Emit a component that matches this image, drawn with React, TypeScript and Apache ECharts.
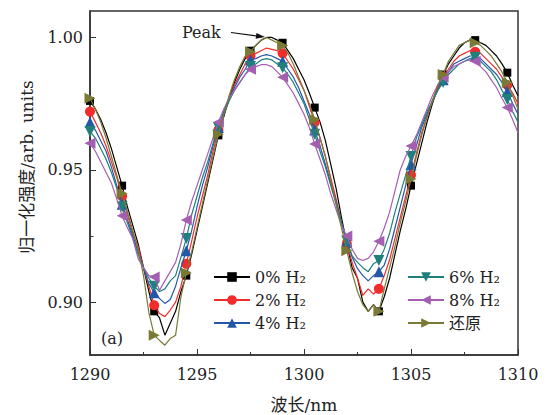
import React, { useEffect, useRef } from 'react';
import * as echarts from 'echarts';

// Sampling grid of the spectra (nm): 1290 ... 1310 every 0.25 nm
const X_START = 1290;
const X_STEP = 0.25;

const names = ['0% H₂', '2% H₂', '4% H₂', '6% H₂', '8% H₂', '还原'];

const h2_0 = [
  0.976, 0.973, 0.969, 0.964, 0.958, 0.951, 0.944, 0.936, 0.929, 0.922,
  0.913, 0.904, 0.8965, 0.894, 0.8875, 0.892, 0.8965, 0.904, 0.910, 0.918,
  0.927, 0.936, 0.945, 0.954, 0.963, 0.970, 0.977, 0.983, 0.988, 0.992,
  0.995, 0.997, 0.999, 1.000, 1.000, 0.999, 0.998, 0.995, 0.992, 0.988,
  0.984, 0.979, 0.9735, 0.968, 0.961, 0.952, 0.943, 0.932, 0.922, 0.913,
  0.909, 0.900, 0.8965, 0.899, 0.8965, 0.902, 0.909, 0.918, 0.927, 0.935,
  0.944, 0.952, 0.960, 0.968, 0.975, 0.981, 0.986, 0.990, 0.993, 0.996,
  0.998, 0.999, 0.999, 0.998, 0.997, 0.995, 0.993, 0.990, 0.9867, 0.982,
  0.978,
];
const h2_2 = [
  0.972, 0.968, 0.964, 0.959, 0.953, 0.947, 0.940, 0.933, 0.926, 0.921,
  0.913, 0.906, 0.8988, 0.8957, 0.8945, 0.897, 0.900, 0.906, 0.9145, 0.923,
  0.932, 0.940, 0.948, 0.957, 0.965, 0.971, 0.977, 0.982, 0.986, 0.990,
  0.993, 0.994, 0.995, 0.996, 0.9955, 0.995, 0.994, 0.991, 0.988, 0.984,
  0.980, 0.974, 0.968, 0.962, 0.955, 0.947, 0.939, 0.930, 0.922, 0.915,
  0.909, 0.9025, 0.905, 0.903, 0.905, 0.910, 0.916, 0.924, 0.932, 0.940,
  0.948, 0.956, 0.964, 0.970, 0.976, 0.981, 0.985, 0.988, 0.991, 0.993,
  0.994, 0.995, 0.9946, 0.994, 0.992, 0.990, 0.988, 0.985, 0.982, 0.979,
  0.975,
];
const h2_4 = [
  0.968, 0.965, 0.961, 0.957, 0.951, 0.944, 0.937, 0.931, 0.925, 0.919,
  0.913, 0.907, 0.9035, 0.9013, 0.8995, 0.901, 0.906, 0.913, 0.9194, 0.927,
  0.936, 0.944, 0.951, 0.959, 0.966, 0.972, 0.977, 0.981, 0.985, 0.988,
  0.9916, 0.992, 0.993, 0.9935, 0.993, 0.992, 0.991, 0.988, 0.985, 0.981,
  0.976, 0.971, 0.965, 0.959, 0.952, 0.945, 0.938, 0.930, 0.923, 0.917,
  0.9126, 0.910, 0.908, 0.910, 0.9115, 0.914, 0.920, 0.928, 0.936, 0.944,
  0.952, 0.959, 0.966, 0.971, 0.976, 0.980, 0.984, 0.987, 0.990, 0.991,
  0.992, 0.993, 0.993, 0.992, 0.990, 0.988, 0.986, 0.983, 0.9796, 0.975,
  0.971,
];
const h2_6 = [
  0.9645, 0.962, 0.958, 0.954, 0.949, 0.943, 0.936, 0.930, 0.924, 0.918,
  0.913, 0.909, 0.906, 0.904, 0.905, 0.908, 0.910, 0.917, 0.924, 0.933,
  0.940, 0.947, 0.953, 0.960, 0.966, 0.971, 0.976, 0.980, 0.983, 0.986,
  0.989, 0.990, 0.9915, 0.992, 0.9915, 0.990, 0.9886, 0.986, 0.983, 0.979,
  0.975, 0.969, 0.9634, 0.957, 0.951, 0.944, 0.937, 0.930, 0.923, 0.9175,
  0.915, 0.913, 0.9115, 0.9145, 0.9157, 0.920, 0.926, 0.934, 0.941, 0.948,
  0.955, 0.962, 0.967, 0.972, 0.976, 0.980, 0.983, 0.986, 0.988, 0.990,
  0.991, 0.992, 0.9924, 0.991, 0.989, 0.987, 0.984, 0.980, 0.9766, 0.972,
  0.968,
];
const h2_8 = [
  0.960, 0.957, 0.953, 0.949, 0.945, 0.939, 0.9326, 0.928, 0.924, 0.9164,
  0.913, 0.910, 0.9095, 0.9045, 0.908, 0.9115, 0.915, 0.922, 0.931, 0.938,
  0.944, 0.950, 0.956, 0.962, 0.968, 0.973, 0.977, 0.980, 0.983, 0.986,
  0.988, 0.989, 0.9897, 0.9897, 0.989, 0.987, 0.985, 0.982, 0.979, 0.975,
  0.971, 0.966, 0.9597, 0.954, 0.948, 0.941, 0.935, 0.929, 0.925, 0.920,
  0.9165, 0.9157, 0.9165, 0.919, 0.923, 0.928, 0.934, 0.942, 0.950, 0.955,
  0.959, 0.963, 0.968, 0.973, 0.978, 0.982, 0.985, 0.987, 0.989, 0.990,
  0.991, 0.9915, 0.991, 0.989, 0.987, 0.984, 0.981, 0.977, 0.9735, 0.969,
  0.964,
];
const restored = [
  0.977, 0.973, 0.968, 0.962, 0.955, 0.948, 0.941, 0.934, 0.927, 0.920,
  0.910, 0.896, 0.8875, 0.8855, 0.8837, 0.8862, 0.8875, 0.902, 0.911, 0.919,
  0.928, 0.937, 0.946, 0.955, 0.9634, 0.971, 0.978, 0.984, 0.989, 0.993,
  0.9946, 0.997, 0.999, 1.000, 0.999, 0.998, 0.997, 0.994, 0.990, 0.985,
  0.980, 0.975, 0.969, 0.962, 0.955, 0.946, 0.937, 0.928, 0.9194, 0.911,
  0.904, 0.899, 0.8965, 0.899, 0.8965, 0.905, 0.913, 0.921, 0.930, 0.938,
  0.9465, 0.955, 0.963, 0.970, 0.976, 0.982, 0.986, 0.991, 0.994, 0.997,
  0.998, 0.999, 0.998, 0.997, 0.995, 0.993, 0.990, 0.987, 0.983, 0.978,
  0.973,
];

const seriesValues = [h2_0, h2_2, h2_4, h2_6, h2_8, restored];
const colors = ['#000000', '#f22b2b', '#2457a8', '#1f7f7b', '#a45fb1', '#7a7a36'];
const symbols = ['rect', 'circle', 'triangle', 'triangle', 'triangle', 'triangle'];
const symbolRotations = [0, 0, 0, 180, 90, -90];
const symbolSizes = [8, 10, 11, 11, 11, 11];
const MARKER_EVERY = 6; // a marker every 1.5 nm

const xTicks = [1290, 1295, 1300, 1305, 1310];
const yMajorTicks = [0.9, 0.95, 1.0];
const yMinorTicks = [0.925, 0.975];

const SERIF = "'DejaVu Serif', 'Noto Sans CJK SC', serif";
const TXT = '#222';
const FRAME = '#333';

export default function App() {
  const ref = useRef<HTMLDivElement>(null);
  useEffect(() => {
    if (!ref.current) return;
    const chart = echarts.init(ref.current, undefined, { renderer: 'svg' });
    const series = seriesValues.map((vals, s) => ({
      name: names[s],
      type: 'line',
      data: vals.map((v, i) => [X_START + X_STEP * i, v]),
      symbol: symbols[s],
      symbolRotate: symbolRotations[s],
      symbolSize: (_v: any, p: any) => (p.dataIndex % MARKER_EVERY === 0 ? symbolSizes[s] : 0),
      showSymbol: true,
      showAllSymbol: true,
      lineStyle: { color: colors[s], width: 1.2 },
      itemStyle: { color: colors[s] },
      z: 2 + s,
    }));
    const lineLegend = (data: string[], left: number) => ({
      data,
      orient: 'vertical',
      left,
      top: 264,
      itemWidth: 36,
      itemHeight: 12,
      itemGap: 7,
      textStyle: { fontFamily: SERIF, fontSize: 16, color: TXT },
    });
    chart.setOption({
      animation: false,
      backgroundColor: '#fff',
      grid: {
        left: 90, right: 35, top: 11, bottom: 60,
        containLabel: false, outerBoundsMode: 'none',
        show: true, borderColor: FRAME, borderWidth: 1.5, backgroundColor: 'transparent',
      },
      legend: [lineLegend(names.slice(0, 3), 208), lineLegend(names.slice(3), 402)],
      xAxis: {
        type: 'value',
        min: xTicks[0],
        max: xTicks[xTicks.length - 1],
        interval: 5,
        name: '波长/nm',
        nameLocation: 'middle',
        nameGap: 41,
        nameTextStyle: { fontFamily: SERIF, fontSize: 17, color: TXT },
        axisLine: { show: true, lineStyle: { color: FRAME, width: 1.5 } },
        axisTick: { show: true, inside: true, length: 6, lineStyle: { color: FRAME } },
        minorTick: { show: true, splitNumber: 2, length: 3, lineStyle: { color: FRAME } },
        axisLabel: { fontFamily: SERIF, fontSize: 16, color: TXT, margin: 11, formatter: (v: number) => String(v) },
        splitLine: { show: false },
        minorSplitLine: { show: false },
      },
      yAxis: [
        {
          type: 'value',
          min: 0.88,
          max: 1.01,
          position: 'left',
          axisLine: { show: true, lineStyle: { color: FRAME, width: 1.5 } },
          axisTick: { show: true, inside: true, length: 6, customValues: yMajorTicks, lineStyle: { color: FRAME } },
          axisLabel: {
            customValues: yMajorTicks,
            formatter: (v: number) => v.toFixed(2),
            fontFamily: SERIF,
            fontSize: 16,
            color: TXT,
            margin: 7,
          },
          splitLine: { show: false },
        },
        {
          type: 'value',
          min: 0.88,
          max: 1.01,
          position: 'left',
          axisLine: { show: false },
          axisTick: { show: true, inside: true, length: 3.5, customValues: yMinorTicks, lineStyle: { color: FRAME } },
          axisLabel: { show: false },
          splitLine: { show: false },
        },
      ],
      series,
      graphic: [
        {
          type: 'text',
          x: 27,
          y: 167,
          rotation: Math.PI / 2,
          style: {
            text: '归一化强度/arb. units',
            fontFamily: SERIF,
            fontSize: 17,
            fill: TXT,
            align: 'center',
            verticalAlign: 'middle',
          },
        },
        {
          type: 'text',
          x: 182,
          y: 32,
          style: { text: 'Peak', fontFamily: SERIF, fontSize: 16, fill: TXT, align: 'left', verticalAlign: 'middle' },
        },
        {
          type: 'line',
          shape: { x1: 231, y1: 32.5, x2: 257, y2: 36 },
          style: { stroke: '#111', lineWidth: 1.2 },
        },
        {
          type: 'polygon',
          shape: { points: [[265, 37], [255.6, 38.8], [256.5, 32.9]] },
          style: { fill: '#111' },
        },
        {
          type: 'text',
          x: 101,
          y: 338,
          style: { text: '(a)', fontFamily: SERIF, fontSize: 16, fill: TXT, align: 'left', verticalAlign: 'middle' },
        },
      ],
    });
    return () => chart.dispose();
  }, []);
  return <div ref={ref} style={{ position: 'fixed', left: 0, top: 0, width: 553, height: 415 }} />;
}
